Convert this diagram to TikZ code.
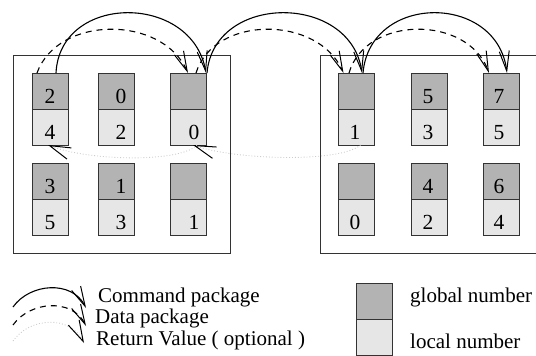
\documentclass[tikz,border=0pt]{standalone}
\usepackage{fontspec}
\setmainfont{Liberation Serif}
\usetikzlibrary{arrows.meta}

\definecolor{globalfill}{HTML}{B3B3B3}
\definecolor{localfill}{HTML}{E6E6E6}
\definecolor{retcol}{HTML}{CCCCCC}

\tikzset{
  frame/.style={draw=black!80, line width=0.9pt},
  gbox/.style={draw=black!80, line width=0.9pt, fill=globalfill, minimum width=36pt, minimum height=36pt, inner sep=0pt, outer sep=0pt},
  lbox/.style={gbox, fill=localfill},
  num/.style={anchor=base, inner sep=0pt, font=\fontsize{21.5}{25}\selectfont},
  legtext/.style={anchor=base west, inner sep=0pt, font=\fontsize{21}{25}\selectfont},
  tip/.style={-{Straight Barb[length=20pt, width=10pt, line width=1pt, color=black]}},
  cmd/.style={tip, line width=1.1pt, black},
  dat/.style={tip, line width=1.1pt, black, dash pattern=on 6pt off 5pt},
  ret/.style={-{Straight Barb[length=21pt, width=12pt, line width=1pt, color=black]}, line width=0.9pt, retcol, dotted},
}

% one processor cell: name, x centre, top edge, x of digits, global, local
\newcommand\ProcCell[6]{%
  \node[gbox] (#1g) at (#2,#3+18) {};
  \node[lbox] (#1l) at (#2,#3+54) {};
  \node[num] (#1gn) at (#4,#3+30) {#5};
  \node[num] (#1ln) at (#4,#3+66) {#6};
}

\begin{document}
\begin{tikzpicture}[x=1pt, y=-1pt]
\useasboundingbox (0,0) rectangle (536,356);
\clip (0,0) rectangle (536,356);

% node groups
\draw[frame] (13,55) rectangle (230,253);
\draw[frame] (320,55) rectangle (560,253);

% first group
\ProcCell{La}{50}{73}{50}{2}{4}
\ProcCell{Lb}{116}{73}{121}{0}{2}
\ProcCell{Lc}{188}{73}{194}{}{0}
\ProcCell{Ld}{50}{163}{50}{3}{5}
\ProcCell{Le}{116}{163}{121}{1}{3}
\ProcCell{Lf}{188}{163}{194}{}{1}

% second group
\ProcCell{Ra}{356.5}{73}{355}{}{1}
\ProcCell{Rb}{429}{73}{428}{5}{3}
\ProcCell{Rc}{501}{73}{499}{7}{5}
\ProcCell{Rd}{356.5}{163}{355}{}{0}
\ProcCell{Re}{429}{163}{428}{4}{2}
\ProcCell{Rf}{501}{163}{499}{6}{4}

% command packages
\draw[cmd] ([xshift=6pt]Lag.north) .. controls (60,-7) and (192,-7) .. (Lcg.north east);
\draw[cmd] ([xshift=1pt]Lcg.north east) .. controls (214,-7) and (350,-7) .. ([xshift=5.5pt]Rag.north);
\draw[cmd] ([xshift=6.5pt]Rag.north) .. controls (370,-7) and (497,-7) .. ([xshift=6pt]Rcg.north);

% data packages
\draw[dat] ([xshift=5pt]Lag.north west) .. controls (58,15) and (162,15) .. (Lcg.north);
\draw[dat] ([xshift=8pt]Lcg.north) .. controls (214,15) and (318,15) .. ([xshift=5pt]Rag.north west);
\draw[dat] ([xshift=-7.5pt]Rag.north) .. controls (366,15) and (468,15) .. ([xshift=-12pt]Rcg.north);

% return values
\draw[ret] ([xshift=4pt]Ral.south) .. controls (340,163) and (235,160) .. ([xshift=5pt]Lcl.south);
\draw[ret] ([xshift=9pt]Lcl.south) .. controls (180,163) and (88,161) .. ([xshift=-2pt]Lal.south);

% legend
\coordinate (c0) at (13,307); \coordinate (c1) at (86,308);
\coordinate (d0) at (13,325); \coordinate (d1) at (86,326);
\coordinate (r0) at (13,341); \coordinate (r1) at (84,343);
\draw[cmd] (c0) .. controls (30,283) and (72,280) .. (c1);
\draw[dat] (d0) .. controls (30,301) and (72,298) .. (d1);
\draw[ret] (r0) .. controls (30,317) and (70,315) .. (r1);
\node[legtext] (lcmd) at (98,302) {Command package};
\node[legtext] (ldat) at (95,323) {Data package};
\node[legtext] (lret) at (96,345) {Return Value ( optional )};

\node[gbox] (kg) at (374.5,301) {};
\node[lbox] (kl) at (374.5,337) {};
\node[legtext] (lg) at (410,302) {global number};
\node[legtext] (ll) at (410,348) {local number};
\end{tikzpicture}
\end{document}
